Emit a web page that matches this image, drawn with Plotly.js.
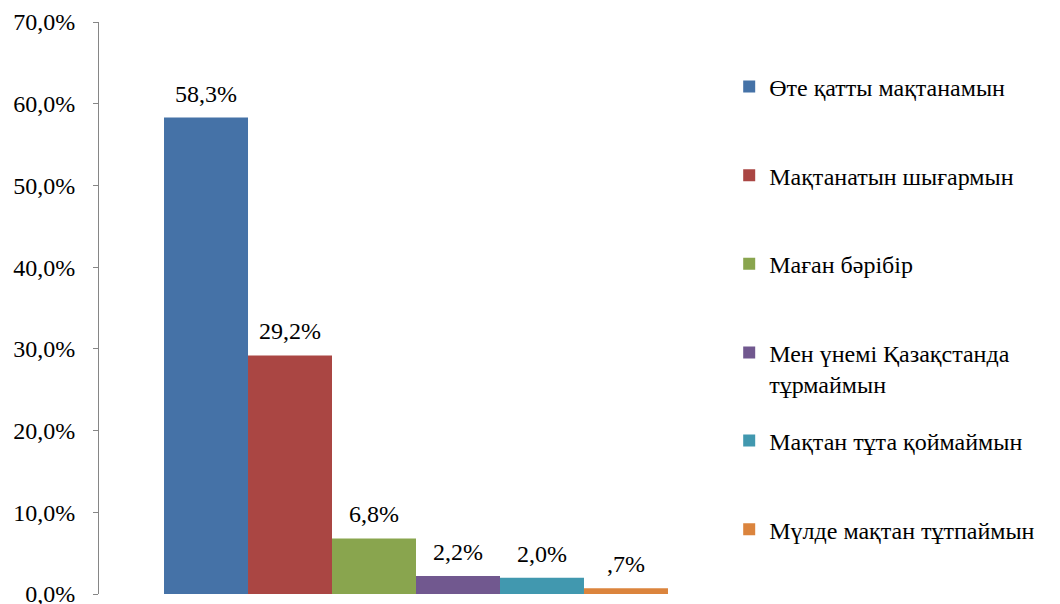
<!DOCTYPE html>
<html>
<head>
<meta charset="utf-8">
<script src="https://cdn.plot.ly/plotly-3.0.1.min.js"></script>
<style>html,body{margin:0;padding:0;background:#fff;}#chart{width:1060px;height:604px;}</style>
</head>
<body>
<div id="chart"></div>
<script>
const seriesNames = [
  "Өте қатты мақтанамын",
  "Мақтанатын шығармын",
  "Маған бәрібір",
  "Мен үнемі Қазақстанда<br>тұрмаймын",
  "Мақтан тұта қоймаймын",
  "Мүлде мақтан тұтпаймын"
];
const seriesValues = [58.3, 29.2, 6.8, 2.2, 2.0, 0.7];
const seriesColors = ["#4572A7", "#AA4643", "#89A54E", "#71588F", "#4198AF", "#DB843D"];
const yTickVals = [0, 10, 20, 30, 40, 50, 60, 70];

function fmtLabel(v) {
  let s = v.toFixed(1).replace(".", ",");
  if (s.startsWith("0,")) s = s.slice(1);
  return s + "%";
}
const yTickText = yTickVals.map(v => v.toFixed(1).replace(".", ",") + "%");

function mkFont(size) {
  return {family: "Liberation Serif", size: size || 24, color: "#000000"};
}

const traces = seriesNames.map((name, i) => ({
  type: "bar",
  name: name,
  x: [i],
  y: [seriesValues[i]],
  width: 1,
  marker: {color: seriesColors[i], line: {width: 0}},
  legend: i < 4 ? "legend" : "legend2",
  legendgroup: "g" + i,
  hoverinfo: "skip"
}));

const annotations = seriesValues.map((v, i) => ({
  x: i, y: v, xref: "x", yref: "y",
  text: fmtLabel(v),
  showarrow: false,
  yanchor: "middle",
  yshift: 24,
  font: mkFont()
}));

const layout = {
  width: 1060,
  height: 604,
  margin: {l: 99, r: 327, t: 22, b: 10},
  paper_bgcolor: "#ffffff",
  plot_bgcolor: "#ffffff",
  font: mkFont(),
  barmode: "overlay",
  showlegend: true,
  annotations: annotations,
  xaxis: {
    range: [-1.274, 6.274],
    showticklabels: false,
    showline: false,
    ticks: "",
    showgrid: false,
    zeroline: false,
    fixedrange: true
  },
  yaxis: {
    range: [0, 70],
    tickmode: "array",
    tickvals: yTickVals,
    ticktext: yTickText,
    ticks: "outside",
    ticklen: 5,
    tickcolor: "#868686",
    showline: true,
    linecolor: "#868686",
    linewidth: 1,
    showgrid: false,
    zeroline: false,
    tickfont: mkFont(),
    ticklabelstandoff: 13,
    ticklabeloverflow: "allow",
    automargin: false
  },
  legend: {
    x: 0.994, xanchor: "left",
    y: 0.926, yanchor: "top",
    traceorder: "grouped",
    tracegroupgap: 54.5,
    font: mkFont(),
    valign: "top",
    itemwidth: 30,
    bgcolor: "rgba(0,0,0,0)"
  },
  legend2: {
    x: 0.994, xanchor: "left",
    y: 0.307, yanchor: "top",
    traceorder: "grouped",
    tracegroupgap: 54.5,
    font: mkFont(),
    valign: "top",
    itemwidth: 30,
    bgcolor: "rgba(0,0,0,0)"
  }
};

Plotly.newPlot("chart", traces, layout, {displayModeBar: false, staticPlot: true});
</script>
</body>
</html>
